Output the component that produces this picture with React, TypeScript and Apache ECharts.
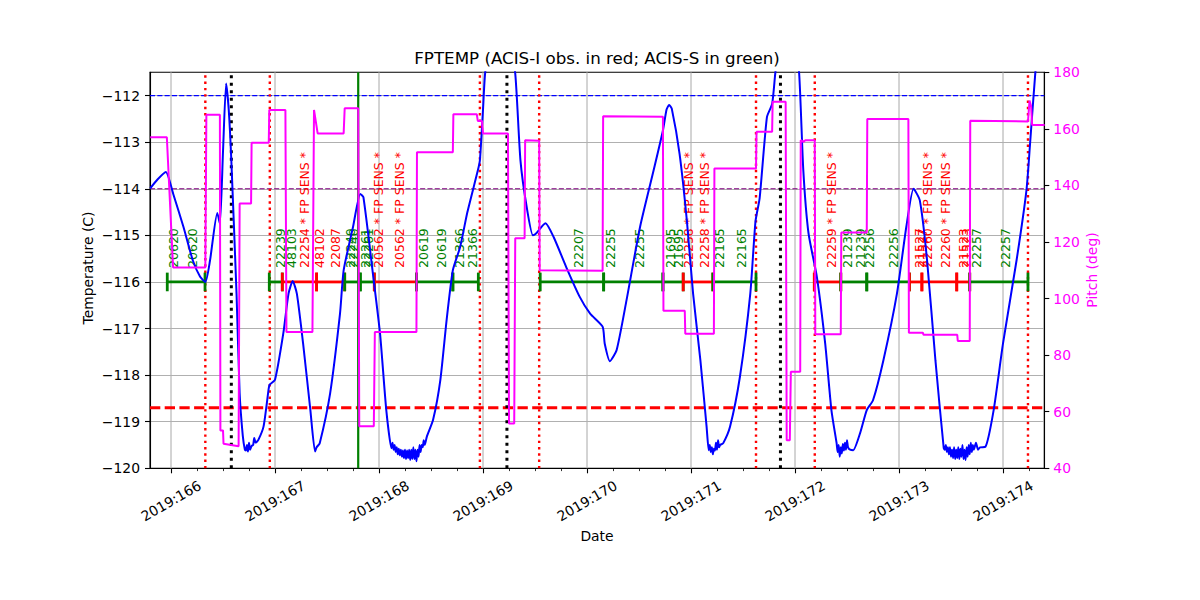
import React, { useEffect, useRef } from "react";
import * as echarts from "echarts";

const YEAR = 2019;
const X_MIN = 165.798;
const X_MAX = 174.397;
const DAY_TICKS = [166, 167, 168, 169, 170, 171, 172, 173, 174];
const TEMP_TICKS = [-120, -119, -118, -117, -116, -115, -114, -113, -112];
const TEMP_MIN = -120;
const TEMP_MAX = -111.5;
const PITCH_MIN = 40;
const PITCH_MAX = 180;

// FPTEMP model (deg C) vs day of year
const tempPoints: [number, number][] = [
  [165.8, -113.99], [165.87, -113.8], [165.95, -113.64], [166.02, -114.1], [166.12, -114.82],
  [166.21, -115.54], [166.28, -115.89], [166.33, -116.0], [166.375, -115.54], [166.445, -114.52],
  [166.47, -114.75], [166.5, -113.2], [166.53, -111.74], [166.555, -112.3], [166.58, -113.39],
  [166.63, -116.25], [166.66, -118.39], [166.69, -119.3], [166.71, -119.6], [166.72, -119.62],
  [166.73, -119.5], [166.74, -119.64], [166.75, -119.45], [166.76, -119.6], [166.775, -119.52],
  [166.79, -119.5], [166.8, -119.35], [166.815, -119.45], [166.84, -119.39], [166.89, -119.1],
  [166.94, -118.28], [166.95, -118.2], [167.0, -118.1], [167.08, -117.1], [167.13, -116.25],
  [167.17, -115.98], [167.21, -116.25], [167.27, -117.32], [167.34, -118.75], [167.385, -119.64],
  [167.4, -119.55], [167.43, -119.46], [167.53, -118.39], [167.625, -116.68], [167.66, -115.75],
  [167.75, -114.82], [167.82, -114.11], [167.85, -114.18], [167.945, -115.89], [168.01, -117.11],
  [168.07, -118.75], [168.12, -119.57], [168.13, -119.45], [168.14, -119.6], [168.15, -119.5],
  [168.16, -119.65], [168.17, -119.55], [168.18, -119.7], [168.19, -119.58], [168.2, -119.72],
  [168.21, -119.6], [168.22, -119.75], [168.23, -119.62], [168.24, -119.78], [168.25, -119.6],
  [168.26, -119.8], [168.27, -119.62], [168.28, -119.78], [168.29, -119.6], [168.3, -119.82],
  [168.31, -119.6], [168.32, -119.8], [168.33, -119.55], [168.34, -119.8], [168.35, -119.6],
  [168.36, -119.85], [168.37, -119.6], [168.38, -119.75], [168.39, -119.5], [168.4, -119.65],
  [168.41, -119.5], [168.42, -119.55], [168.43, -119.4], [168.44, -119.5], [168.46, -119.32],
  [168.52, -118.96], [168.59, -118.1], [168.65, -116.82], [168.71, -115.75], [168.78, -115.25],
  [168.85, -114.5], [168.95, -113.61], [168.97, -113.39], [169.0, -112.3], [169.02, -111.53],
  [169.08, -110.6], [169.15, -110.3], [169.25, -110.8], [169.31, -111.53], [169.36, -113.39],
  [169.42, -114.39], [169.48, -115.0], [169.51, -114.96], [169.6, -114.74], [169.68, -115.04],
  [169.8, -115.68], [169.93, -116.32], [170.03, -116.68], [170.15, -116.96], [170.17, -117.32],
  [170.22, -117.7], [170.285, -117.46], [170.38, -116.39], [170.51, -114.82], [170.64, -113.61],
  [170.73, -112.75], [170.765, -112.3], [170.79, -112.2], [170.815, -112.28], [170.89, -113.25],
  [170.96, -114.68], [171.02, -116.25], [171.09, -117.68], [171.15, -119.11], [171.17, -119.61],
  [171.18, -119.5], [171.19, -119.65], [171.2, -119.55], [171.21, -119.7], [171.22, -119.58],
  [171.23, -119.62], [171.24, -119.45], [171.25, -119.6], [171.26, -119.4], [171.27, -119.55],
  [171.28, -119.5], [171.31, -119.46], [171.375, -119.11], [171.47, -118.04], [171.57, -116.25],
  [171.62, -114.7], [171.66, -114.2], [171.73, -112.46], [171.78, -112.18], [171.81, -111.53],
  [171.86, -110.6], [171.92, -110.3], [171.99, -110.6], [172.04, -111.53], [172.08, -113.61],
  [172.13, -114.96], [172.21, -115.89], [172.29, -117.32], [172.35, -118.75], [172.4, -119.46],
  [172.41, -119.65], [172.42, -119.5], [172.43, -119.75], [172.44, -119.55], [172.45, -119.68],
  [172.46, -119.48], [172.47, -119.62], [172.48, -119.45], [172.49, -119.6], [172.5, -119.4],
  [172.51, -119.55], [172.53, -119.6], [172.56, -119.61], [172.625, -119.25], [172.69, -118.75],
  [172.75, -118.54], [172.85, -117.68], [172.98, -116.25], [173.07, -114.82], [173.14, -114.0],
  [173.2, -114.25], [173.27, -115.54], [173.35, -117.68], [173.43, -119.57], [173.44, -119.6],
  [173.45, -119.5], [173.46, -119.65], [173.47, -119.55], [173.48, -119.7], [173.49, -119.55],
  [173.5, -119.75], [173.51, -119.6], [173.52, -119.78], [173.53, -119.55], [173.54, -119.8],
  [173.55, -119.6], [173.56, -119.78], [173.57, -119.55], [173.58, -119.8], [173.59, -119.58],
  [173.6, -119.75], [173.61, -119.5], [173.62, -119.8], [173.63, -119.6], [173.64, -119.82],
  [173.65, -119.55], [173.66, -119.75], [173.67, -119.5], [173.68, -119.7], [173.69, -119.45],
  [173.7, -119.65], [173.71, -119.5], [173.72, -119.6], [173.74, -119.45], [173.76, -119.6],
  [173.78, -119.55], [173.83, -119.54], [173.91, -118.75], [174.0, -117.32], [174.13, -115.54],
  [174.225, -114.04], [174.26, -113.04], [174.31, -111.53], [174.36, -110.5], [174.4, -110.0],
];

// Pitch (deg) vs day of year
const pitchPoints: [number, number][] = [
  [165.8, 157], [165.96, 157], [166.02, 111], [166.33, 111], [166.34, 165], [166.47, 165],
  [166.475, 53.4], [166.5, 53.4], [166.505, 48.7], [166.65, 47.8], [166.66, 133.6], [166.77, 133.6],
  [166.775, 155.1], [166.94, 155.1], [166.945, 166.7], [167.1, 166.7], [167.11, 88.2], [167.36, 88.2],
  [167.375, 166.7], [167.38, 166.7], [167.41, 158.4], [167.66, 158.4], [167.67, 167.3], [167.8, 167.3],
  [167.81, 54.9], [167.95, 54.9], [167.96, 88.2], [168.36, 88.2], [168.365, 151.7], [168.71, 151.7],
  [168.715, 165.2], [168.94, 165.2], [168.95, 162.8], [168.99, 162.8], [169.0, 158.4], [169.24, 158.4],
  [169.25, 55.8], [169.3, 55.8], [169.31, 121.3], [169.4, 121.3], [169.405, 156.0], [169.54, 155.8],
  [169.545, 110.0], [170.15, 109.8], [170.155, 164.5], [170.73, 164.3], [170.735, 95.7], [170.94, 95.7],
  [170.945, 87.6], [171.22, 87.6], [171.225, 146.0], [171.625, 146.0], [171.63, 159.0], [171.78, 159.0],
  [171.785, 169.6], [171.91, 169.6], [171.92, 49.9], [171.95, 49.9], [171.96, 74.1], [172.05, 74.1],
  [172.055, 156.0], [172.08, 155.4], [172.1, 156.0], [172.19, 156.0], [172.195, 87.4], [172.44, 87.4],
  [172.445, 123.4], [172.69, 123.4], [172.695, 163.5], [173.09, 163.5], [173.095, 87.9], [173.23, 87.9],
  [173.235, 87.2], [173.56, 87.2], [173.565, 85.0], [173.68, 85.0], [173.685, 162.9], [174.24, 162.6],
  [174.255, 170.0], [174.27, 168.0], [174.28, 161.4], [174.4, 161.4],
];

const YELLOW_HI = -112.0; // blue dashed
const PLAN_HI = -114.0; // purple dashed
const ACIS_I_LIMIT = -118.7; // red dashed
const RADZONE_DAYS = [166.33, 166.95, 168.97, 169.54, 171.625, 172.19, 174.24]; // red dotted
const COMM_DAYS = [166.58, 169.23, 171.86]; // black dotted
const NOW_DAYS = [167.8]; // green solid

const OBS_Y = -116;
const CAP = 0.2;
const LABEL_Y = -115.7;

// obs segments: start day, stop day, instrument
const obsSegments: [number, number, string][] = [
  [165.964, 166.327, "S"], [166.945, 167.07, "S"], [167.07, 167.4, "I"], [167.4, 167.67, "I"],
  [167.67, 167.82, "S"], [167.82, 167.955, "S"], [167.955, 168.36, "I"], [168.36, 168.71, "S"],
  [168.71, 168.955, "S"], [169.55, 170.16, "S"], [170.16, 170.73, "S"], [170.73, 170.925, "S"],
  [170.925, 171.21, "I"], [171.21, 171.625, "S"], [172.185, 172.44, "I"], [172.44, 172.69, "S"],
  [172.69, 173.1, "S"], [173.1, 173.22, "I"], [173.22, 173.555, "I"], [173.555, 173.68, "I"],
  [173.68, 174.24, "S"],
];

// obsid labels: day, obsid, instrument, FP sensitive
const obsLabels: [number, string, string, boolean][] = [
  [165.966, "20620", "S", false], [166.142, "20620", "S", false], [166.995, "22239", "S", false],
  [167.098, "48103", "S", false], [167.219, "22254", "I", true], [167.37, "48102", "I", false],
  [167.521, "22087", "I", false], [167.659, "22240", "S", false], [167.697, "22240", "S", false],
  [167.803, "22261", "S", false], [167.832, "22261", "S", false], [167.931, "20562", "I", true],
  [168.139, "20562", "I", true], [168.363, "20619", "S", false], [168.534, "20619", "S", false],
  [168.716, "21366", "S", false], [168.835, "21366", "S", false], [169.854, "22207", "S", false],
  [170.168, "22255", "S", false], [170.447, "22255", "S", false], [170.736, "21695", "S", false],
  [170.815, "21695", "S", false], [170.918, "22258", "I", true], [171.072, "22258", "I", true],
  [171.216, "22165", "S", false], [171.425, "22165", "S", false], [172.29, "22259", "I", true],
  [172.444, "21239", "S", false], [172.563, "21239", "S", false], [172.649, "22256", "S", false],
  [172.883, "22256", "S", false], [173.139, "21527", "I", false], [173.165, "21527", "I", false],
  [173.21, "22260", "I", true], [173.389, "22260", "I", true], [173.556, "21523", "I", false],
  [173.582, "21523", "I", false], [173.678, "22257", "S", false], [173.957, "22257", "S", false],
];

const FONT = "DejaVu Sans";
const instColor = (inst: string) => (inst === "I" ? "#ff0000" : "#008000");
const fmtMinus = (v: number) => (v < 0 ? "\u2212" + Math.abs(v) : String(v));

function vlineSeries(days: number[], color: string, width: number, dash: number[] | null, z: number) {
  return {
    type: "custom",
    z,
    silent: true,
    data: days.map((d) => [d, TEMP_MIN]),
    encode: { x: 0, y: 1 },
    renderItem: (params: any, api: any) => {
      const d = days[params.dataIndex];
      const a = api.coord([d, TEMP_MIN]);
      const b = api.coord([d, TEMP_MAX]);
      return {
        type: "line",
        shape: { x1: a[0], y1: a[1], x2: b[0], y2: b[1] },
        style: { stroke: color, lineWidth: width, lineDash: dash || undefined, fill: null },
      };
    },
  };
}

function hlineSeries(vals: number[], colors: string[], widths: number[], dashes: number[][], z: number) {
  return {
    type: "custom",
    z,
    silent: true,
    data: vals.map((v) => [X_MIN, v]),
    encode: { x: 0, y: 1 },
    renderItem: (params: any, api: any) => {
      const i = params.dataIndex;
      const a = api.coord([X_MIN, vals[i]]);
      const b = api.coord([X_MAX, vals[i]]);
      return {
        type: "line",
        shape: { x1: a[0], y1: a[1], x2: b[0], y2: b[1] },
        style: { stroke: colors[i], lineWidth: widths[i], lineDash: dashes[i], fill: null },
      };
    },
  };
}

export default function App() {
  const ref = useRef<HTMLDivElement>(null);
  useEffect(() => {
    document.body.style.margin = "0";
    const chart = echarts.init(ref.current!, null, { renderer: "svg" });
    const quarterTicks: number[] = [];
    for (let d = 165.75; d <= X_MAX; d += 0.25) {
      if (d >= X_MIN && Math.abs(d - Math.round(d)) > 0.01) quarterTicks.push(d);
    }
    const axisFont = { fontFamily: FONT, fontSize: 13.9 };
    const option: any = {
      animation: false,
      backgroundColor: "#ffffff",
      grid: {
        left: 150, top: 72.3, width: 894.3, height: 396,
        show: true, borderColor: "#000", borderWidth: 1.1, backgroundColor: "transparent",
        containLabel: false, outerBoundsMode: "none",
      },
      xAxis: [
        {
          type: "value", min: X_MIN, max: X_MAX,
          axisLine: { show: true, lineStyle: { color: "#000", width: 1.1 } },
          axisTick: { show: true, customValues: DAY_TICKS, length: 5, lineStyle: { color: "#000", width: 1.1 } },
          axisLabel: {
            customValues: DAY_TICKS, formatter: (v: number) => `${YEAR}:${Math.round(v)}`,
            rotate: 30, align: "center", verticalAlign: "middle", margin: 32.5, color: "#000", ...axisFont,
          },
          splitLine: { show: false },
        },
        {
          type: "value", min: X_MIN, max: X_MAX, position: "bottom", offset: 0,
          axisLine: { show: false },
          axisTick: { show: true, customValues: quarterTicks, length: 2.8, lineStyle: { color: "#000", width: 0.8 } },
          axisLabel: { show: false },
          splitLine: { show: false },
        },
      ],
      yAxis: [
        {
          type: "value", min: TEMP_MIN, max: TEMP_MAX, interval: 1, position: "left",
          axisLine: { show: true, lineStyle: { color: "#000", width: 1.1 } },
          axisTick: { show: true, customValues: TEMP_TICKS, length: 5, lineStyle: { color: "#000", width: 1.1 } },
          axisLabel: { customValues: TEMP_TICKS, formatter: fmtMinus, margin: 10, color: "#000", ...axisFont },
          splitLine: { show: true, lineStyle: { color: "#b0b0b0", width: 1.1 } },
        },
        {
          type: "value", min: PITCH_MIN, max: PITCH_MAX, interval: 20, position: "right",
          axisLine: { show: true, lineStyle: { color: "#000", width: 1.1 } },
          axisTick: { show: true, length: 5, lineStyle: { color: "#000", width: 1.1 } },
          axisLabel: { margin: 9, color: "#ff00ff", ...axisFont },
          splitLine: { show: false },
        },
      ],
      graphic: [
        {
          type: "text", x: 597, y: 58, silent: true,
          style: { text: "FPTEMP (ACIS-I obs. in red; ACIS-S in green)", fill: "#000", fontFamily: FONT, fontSize: 16.7, align: "center", verticalAlign: "middle", textAlign: "center", textVerticalAlign: "middle" },
        },
        {
          type: "text", x: 88, y: 268, rotation: Math.PI / 2, silent: true,
          style: { text: "Temperature (C)", fill: "#000", fontFamily: FONT, fontSize: 13.9, align: "center", verticalAlign: "middle", textAlign: "center", textVerticalAlign: "middle" },
        },
        {
          type: "text", x: 597, y: 536, silent: true,
          style: { text: "Date", fill: "#000", fontFamily: FONT, fontSize: 13.9, align: "center", verticalAlign: "middle", textAlign: "center", textVerticalAlign: "middle" },
        },
        {
          type: "text", x: 1092, y: 270, rotation: Math.PI / 2, silent: true,
          style: { text: "Pitch (deg)", fill: "#ff00ff", fontFamily: FONT, fontSize: 13.9, align: "center", verticalAlign: "middle", textAlign: "center", textVerticalAlign: "middle" },
        },
      ],
      series: [
        vlineSeries(DAY_TICKS, "#b0b0b0", 1.1, null, 1),
        hlineSeries(
          [YELLOW_HI, PLAN_HI, ACIS_I_LIMIT],
          ["#0000ff", "#800080", "#ff0000"],
          [1.1, 1.1, 2.8],
          [[5.1, 2.2], [5.1, 2.2], [10.3, 4.4]],
          2
        ),
        vlineSeries(RADZONE_DAYS, "#ff0000", 2.4, [2.4, 3.9], 2),
        vlineSeries(COMM_DAYS, "#000000", 3, [3, 4.5], 2),
        vlineSeries(NOW_DAYS, "#008000", 2.2, null, 2),
        {
          type: "custom", z: 3, silent: true,
          data: obsSegments.map((s) => [s[0], OBS_Y]),
          encode: { x: 0, y: 1 },
          renderItem: (params: any, api: any) => {
            const [s, e, inst] = obsSegments[params.dataIndex];
            const color = instColor(inst);
            const a = api.coord([s, OBS_Y]);
            const b = api.coord([e, OBS_Y]);
            const a0 = api.coord([s, OBS_Y - CAP]);
            const a1 = api.coord([s, OBS_Y + CAP]);
            const b0 = api.coord([e, OBS_Y - CAP]);
            const b1 = api.coord([e, OBS_Y + CAP]);
            const st = { stroke: color, lineWidth: 2.8, fill: null };
            return {
              type: "group",
              children: [
                { type: "line", shape: { x1: a[0], y1: a[1], x2: b[0], y2: b[1] }, style: st },
                { type: "line", shape: { x1: a0[0], y1: a0[1], x2: a1[0], y2: a1[1] }, style: st },
                { type: "line", shape: { x1: b0[0], y1: b0[1], x2: b1[0], y2: b1[1] }, style: st },
              ],
            };
          },
        },
        {
          type: "custom", z: 3, silent: true,
          data: obsLabels.map((l) => [l[0], LABEL_Y]),
          encode: { x: 0, y: 1 },
          renderItem: (params: any, api: any) => {
            const [d, obsid, inst, fp] = obsLabels[params.dataIndex];
            const p = api.coord([d, LABEL_Y]);
            return {
              type: "text",
              x: p[0], y: p[1], rotation: Math.PI / 2,
              style: {
                text: fp ? `${obsid} * FP SENS *` : obsid,
                fill: instColor(inst), fontFamily: FONT, fontSize: 12.5,
                align: "left", verticalAlign: "top",
              },
            };
          },
        },
        {
          type: "line", z: 4, xAxisIndex: 0, yAxisIndex: 0, data: tempPoints,
          showSymbol: false, symbol: "none", clip: true, smooth: 0.2,
          lineStyle: { color: "#0000ff", width: 2 }, silent: true,
        },
        {
          type: "line", z: 5, xAxisIndex: 0, yAxisIndex: 1, data: pitchPoints,
          showSymbol: false, symbol: "none", clip: true,
          lineStyle: { color: "#ff00ff", width: 2 }, silent: true,
        },
      ],
    };
    chart.setOption(option);
    return () => chart.dispose();
  }, []);
  return (
    <div
      ref={ref}
      style={{ position: "fixed", left: 0, top: 0, width: 1200, height: 600, background: "#fff" }}
    />
  );
}
